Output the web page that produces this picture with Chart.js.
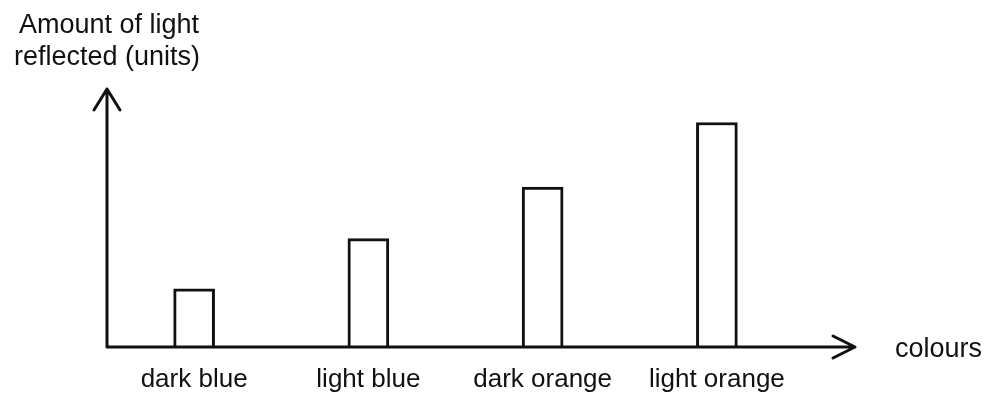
<!DOCTYPE html>
<html lang="en">
<head>
    <meta charset="UTF-8">
    <title>Amount of light reflected</title>
    <script src="https://cdn.jsdelivr.net/npm/chart.js"></script>
    <style>
        body {
            margin: 0;
            background-color: white;
        }
        #wrap {
            width: 990px;
            height: 398px;
        }
    </style>
</head>
<body>
    <div id="wrap">
        <canvas id="grafico" width="990" height="398"></canvas>
    </div>

    <script>
        // data (arbitrary units, axis top = 10)
        const colours = ["dark blue", "light blue", "dark orange", "light orange"];
        const lightReflected = [2.25, 4.2, 6.2, 8.7];
        const yTitle = ["Amount of light", "reflected (units)"];
        const xTitle = "colours";

        const FONT = '"Liberation Sans", Arial, sans-serif';
        const INK = "#111";

        // axes with arrow heads + the axis titles
        const arrowAxes = {
            id: "arrowAxes",
            afterDatasetsDraw(chart) {
                const { ctx, chartArea } = chart;
                const x0 = chartArea.left;
                const y0 = chartArea.bottom;
                const xEnd = 855;
                const yEnd = chartArea.top;

                ctx.save();
                ctx.strokeStyle = INK;
                ctx.lineWidth = 3;
                ctx.lineCap = "round";
                ctx.lineJoin = "round";

                ctx.beginPath();
                ctx.moveTo(x0, y0);
                ctx.lineTo(x0, yEnd);
                ctx.moveTo(x0 - 13, yEnd + 21);
                ctx.lineTo(x0, yEnd);
                ctx.lineTo(x0 + 13, yEnd + 21);

                ctx.moveTo(x0, y0);
                ctx.lineTo(xEnd, y0);
                ctx.moveTo(xEnd - 22, y0 - 11);
                ctx.lineTo(xEnd, y0);
                ctx.lineTo(xEnd - 22, y0 + 11);
                ctx.stroke();

                ctx.fillStyle = INK;
                ctx.font = "27px " + FONT;
                ctx.textAlign = "center";
                ctx.textBaseline = "alphabetic";
                ctx.fillText(yTitle[0], 109, 33);
                ctx.fillText(yTitle[1], 107, 65);
                ctx.textAlign = "left";
                ctx.fillText(xTitle, 895, 357);
                ctx.restore();
            }
        };

        let ctx = document.getElementById("grafico").getContext("2d");
        let grafico = new Chart(ctx, {
            type: "bar",
            data: {
                labels: colours,
                datasets: [{
                    data: lightReflected,
                    backgroundColor: "white",
                    borderColor: INK,
                    borderWidth: 3,
                    borderSkipped: "bottom",
                    barThickness: 41
                }]
            },
            options: {
                responsive: false,
                animation: false,
                layout: {
                    padding: { left: 107, right: 186, top: 89, bottom: 0 }
                },
                plugins: {
                    legend: { display: false },
                    tooltip: { enabled: false }
                },
                scales: {
                    x: {
                        grid: { display: false, drawTicks: false },
                        border: { display: false },
                        ticks: {
                            color: INK,
                            padding: 17,
                            maxRotation: 0,
                            autoSkip: false,
                            font: { size: 26, family: FONT }
                        },
                        afterFit(scale) {
                            scale.height = 51;
                        }
                    },
                    y: {
                        display: false,
                        min: 0,
                        max: 10
                    }
                }
            },
            plugins: [arrowAxes]
        });
    </script>
</body>
</html>
